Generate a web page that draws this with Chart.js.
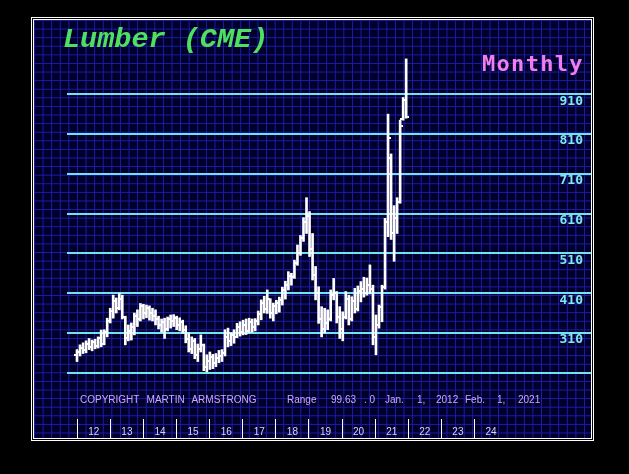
<!DOCTYPE html>
<html>
<head>
<meta charset="utf-8">
<title>Lumber (CME) Monthly</title>
<script src="https://cdn.jsdelivr.net/npm/chart.js@4.4.0/dist/chart.umd.min.js"></script>
<style>
  body { margin: 0; background: #000; width: 629px; height: 474px; overflow: hidden; position: relative; }
  .frame-out { position: absolute; left: 31px; top: 17px; width: 563px; height: 424px; border: 1px solid #fff; box-sizing: border-box; }
  .frame-in {
    position: absolute; left: 33px; top: 19px; width: 559px; height: 420px;
    border: 1px solid #fff; box-sizing: border-box;
    background-color: #00002a;
    background-image:
      linear-gradient(to right, #1c1caa 1px, transparent 1px),
      linear-gradient(to bottom, #1c1caa 1px, transparent 1px);
    background-size: 8.6px 8.6px;
  }
  canvas { position: absolute; left: 0; top: 0; }
  .txt { position: absolute; white-space: pre; line-height: 1; }
  #title { left: 63px; top: 23px; font: italic bold 28.5px "Liberation Mono", monospace; color: #4fe060; }
  #period { left: 482px; top: 51px; font: bold 22px "DejaVu Sans Mono", monospace; color: #f07ef0; letter-spacing: 1.3px; }
  .note { top: 394px; font: 10px "Liberation Sans", Arial, sans-serif; color: #c9a9f5; }
</style>
</head>
<body>
<div class="frame-out"></div>
<div class="frame-in"></div>
<canvas id="chart" width="629" height="474"></canvas>

<div id="title" class="txt">Lumber (CME)</div>
<div id="period" class="txt">Monthly</div>
<div class="txt note" style="left:80px; word-spacing:4.5px">COPYRIGHT MARTIN ARMSTRONG</div>
<div class="txt note" style="left:287px">Range</div>
<div class="txt note" style="left:331px">99.63</div>
<div class="txt note" style="left:364px">. 0</div>
<div class="txt note" style="left:385px">Jan.</div>
<div class="txt note" style="left:417px">1,</div>
<div class="txt note" style="left:436px">2012</div>
<div class="txt note" style="left:465px">Feb.</div>
<div class="txt note" style="left:497px">1,</div>
<div class="txt note" style="left:518px">2021</div>

<script>
// monthly bars, Jan 2012 .. Feb 2021
const opens = [
  255, 262, 272, 266, 282, 275, 286, 278, 296, 282, 312, 340,
  365, 390, 372, 395, 350, 298, 315, 325, 352, 345, 378, 360,
  372, 360, 352, 345, 330, 338, 320, 345, 340, 348, 330, 338,
  318, 295, 270, 290, 255, 270, 280, 225, 240, 250, 235, 248,
  252, 260, 300, 290, 305, 300, 325, 312, 330, 315, 338, 325,
  340, 358, 385, 370, 395, 360, 378, 385, 392, 418, 430, 452,
  450, 485, 510, 548, 590, 605, 520, 455, 410, 345, 320, 335,
  345, 405, 410, 350, 320, 350, 395, 345, 390, 370, 415, 420,
  410, 430, 420, 300, 330, 375, 425, 590, 750, 560, 600, 640,
  848, 895
];
const highs = [
  268, 280, 285, 290, 296, 292, 294, 300, 317, 318, 347, 372,
  405, 398, 410, 405, 352, 330, 335, 360, 368, 384, 382, 380,
  378, 372, 368, 352, 345, 347, 350, 355, 356, 352, 348, 342,
  328, 310, 300, 296, 282, 305, 282, 255, 262, 256, 258, 266,
  268, 318, 322, 310, 318, 334, 338, 342, 345, 347, 345, 346,
  365, 393, 402, 418, 396, 385, 392, 400, 425, 440, 464, 460,
  493, 531, 555, 600, 650, 615, 560, 477, 426, 376, 372, 368,
  418, 447, 414, 376, 363, 414, 405, 401, 422, 428, 439, 450,
  448, 481, 430, 355, 380, 430, 598, 860, 760, 630, 650, 845,
  902, 999
];
const lows = [
  238, 252, 258, 260, 268, 265, 270, 272, 275, 280, 300, 335,
  347, 360, 368, 345, 280, 290, 292, 305, 326, 340, 345, 348,
  342, 340, 330, 320, 312, 296, 315, 322, 326, 318, 315, 309,
  285, 262, 258, 245, 238, 262, 215, 212, 218, 220, 225, 235,
  238, 252, 275, 278, 284, 298, 302, 305, 306, 310, 312, 315,
  330, 343, 360, 359, 347, 340, 358, 362, 380, 395, 418, 430,
  447, 480, 505, 540, 560, 502, 443, 393, 334, 300, 310, 318,
  340, 393, 335, 296, 290, 345, 330, 340, 360, 365, 388, 400,
  405, 408, 280, 255, 322, 338, 420, 552, 545, 490, 560, 636,
  845, 850
];
const closes = [
  262, 272, 266, 282, 275, 286, 278, 296, 282, 312, 340, 365,
  390, 372, 395, 350, 298, 315, 325, 352, 345, 378, 360, 372,
  360, 352, 345, 330, 338, 320, 345, 340, 348, 330, 338, 318,
  295, 270, 290, 255, 270, 280, 225, 240, 250, 235, 248, 252,
  260, 300, 290, 305, 300, 325, 312, 330, 315, 338, 325, 340,
  358, 385, 370, 395, 360, 378, 385, 392, 418, 430, 452, 450,
  485, 510, 548, 590, 605, 520, 455, 410, 345, 320, 335, 345,
  405, 410, 350, 320, 350, 395, 345, 390, 370, 415, 420, 410,
  430, 420, 300, 330, 375, 425, 590, 800, 560, 600, 640, 830,
  895, 852
];
const yearLabels = ['12', '13', '14', '15', '16', '17', '18', '19', '20', '21', '22', '23', '24'];
const firstYear = 12;
const priceLines = [210, 310, 410, 510, 610, 710, 810, 910];

const months = opens.map((_, i) => i);

// little open/close ticks used as point images
function tickMark(side) {
  const c = document.createElement('canvas');
  c.width = 6;
  c.height = 2;
  const g = c.getContext('2d');
  g.fillStyle = '#ffffff';
  g.fillRect(side === 'open' ? 0 : 4, 0, 2, 2);
  return c;
}

new Chart(document.getElementById('chart'), {
  type: 'bar',
  data: {
    datasets: [
      {
        type: 'bar',
        data: months.map(i => ({ x: i, y: [lows[i], highs[i]] })),
        backgroundColor: '#ffffff',
        borderWidth: 0,
        barThickness: 2,
        xAxisID: 'x',
        yAxisID: 'y'
      },
      {
        type: 'scatter',
        data: months.map(i => ({ x: i, y: opens[i] })),
        pointStyle: tickMark('open'),
        xAxisID: 'x',
        yAxisID: 'y'
      },
      {
        type: 'scatter',
        data: months.map(i => ({ x: i, y: closes[i] })),
        pointStyle: tickMark('close'),
        xAxisID: 'x',
        yAxisID: 'y'
      }
    ]
  },
  options: {
    responsive: false,
    animation: false,
    devicePixelRatio: 1,
    events: [],
    layout: { padding: { left: 67, right: 38, top: 20, bottom: 35 } },
    plugins: { legend: { display: false }, tooltip: { enabled: false } },
    scales: {
      x: {
        type: 'linear',
        display: false,
        offset: false,
        grid: { offset: false },
        min: -3.311,
        max: 170.2
      },
      yr: {
        type: 'linear',
        axis: 'x',
        position: 'bottom',
        offset: false,
        min: 11.689,
        max: 27.52,
        afterFit: s => { s.height = 20; },
        afterBuildTicks: s => { s.ticks = yearLabels.map((_, k) => ({ value: firstYear + k })); },
        grid: { offset: false, drawOnChartArea: false, drawTicks: true, tickLength: 20, color: '#ffffff', lineWidth: 1 },
        border: { display: false },
        ticks: {
          autoSkip: false,
          maxRotation: 0,
          labelOffset: 16.5,
          padding: -13,
          color: '#dcd0ff',
          font: { family: 'Liberation Sans', size: 10 },
          callback: (v, k) => yearLabels[k]
        }
      },
      y: {
        type: 'linear',
        position: 'right',
        min: 93.5,
        max: 1096.8,
        afterFit: s => { s.width = 0; },
        afterBuildTicks: s => { s.ticks = priceLines.map(v => ({ value: v })); },
        grid: { color: '#6fe3ef', lineWidth: 2, drawTicks: false },
        border: { display: false },
        ticks: {
          mirror: true,
          padding: -8,
          labelOffset: 7,
          color: '#7fe6f2',
          font: { family: 'DejaVu Sans Mono', size: 13, weight: 'bold' },
          callback: v => (v === 210 ? '' : String(v))
        }
      }
    }
  }
});
</script>
</body>
</html>
